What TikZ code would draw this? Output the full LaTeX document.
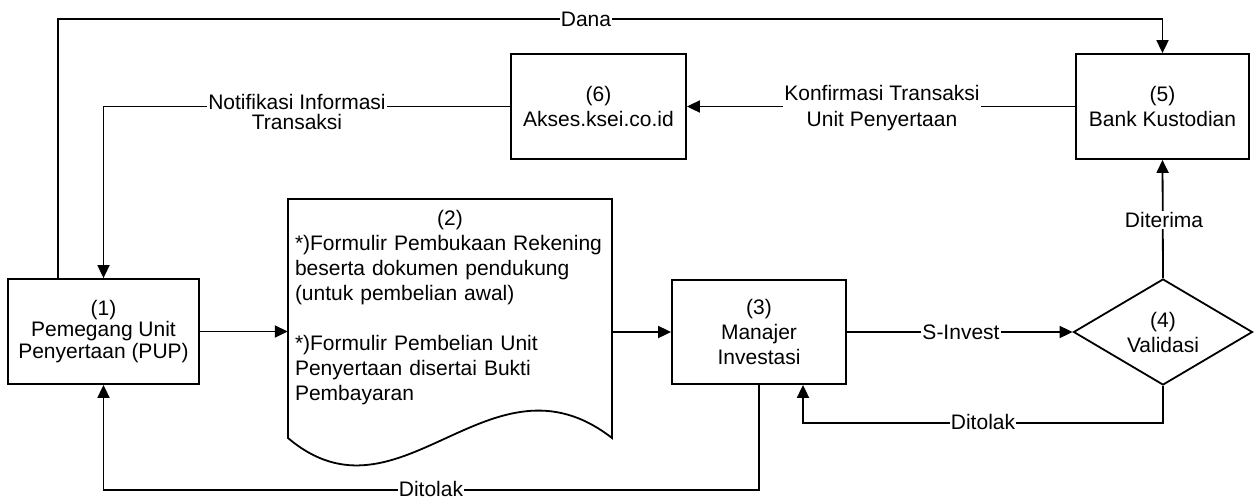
\documentclass[tikz,border=0pt]{standalone}
\usepackage{fontspec}
\setmainfont{Liberation Sans}
\usetikzlibrary{arrows.meta,shapes.geometric}
\begin{document}
\begin{tikzpicture}[x=1pt,y=-1pt,
  every node/.style={font=\fontsize{21}{25}\selectfont},
  box/.style={draw, line width=1.8pt, align=center, inner sep=0pt},
  lbl/.style={fill=white, inner sep=1pt, align=center},
  arr/.style={line width=1.8pt, -{Triangle[length=13pt,width=12pt]}},
  ln/.style={line width=1.8pt}]
\useasboundingbox (0,0) rectangle (1258,499);
% boxes
\node[box, minimum width=191pt, minimum height=105pt,
      font=\fontsize{21}{21.5}\selectfont] (box1) at (103.5,331.5)
      {(1)\\Pemegang Unit\\Penyertaan (PUP)};
\node[box, minimum width=175pt, minimum height=105pt] (box6) at (598.5,106.5)
      {(6)\\Akses.ksei.co.id};
\node[box, minimum width=173pt, minimum height=105pt] (box5) at (1162.5,106.5)
      {(5)\\Bank Kustodian};
\node[box, minimum width=174pt, minimum height=104pt] (box3) at (759,332)
      {(3)\\Manajer\\Investasi};
\node[box, diamond, aspect=1.7, minimum width=179pt, minimum height=106pt] (dia) at (1163,332)
      {(4)\\Validasi};
% document shape
\draw[ln, line join=miter] (288,199) -- (612,199) -- (612,438)
   .. controls (490,343) and (400,533) .. (288,438) -- cycle;
\node[anchor=north, text width=310pt, inner xsep=7pt, inner ysep=0pt, align=left] (doc) at (450,210)
  {\makebox[\linewidth]{(2)}\\
   \relax *)Formulir Pembukaan Rekening\\
   beserta dokumen pendukung\\
   (untuk pembelian awal)\\[25pt]
   \relax *)Formulir Pembelian Unit\\
   Penyertaan disertai Bukti\\
   Pembayaran};
% connectors
\coordinate (danaL) at (58,19);
\coordinate (danaR) at (1162.5,19);
\draw[arr] (box1.north -| danaL) -- (danaL) -- (danaR) -- (box5.north);
\draw[arr] (box6.west) -- (box6.west -| box1.north) -- (box1.north);
\draw[arr] (box5.west) -- (box6.east);
\draw[arr] (box1.east) -- (box1.east -| doc.west);
\draw[arr] (box3.west -| doc.east) -- (box3.west);
\draw[arr] (box3.east) -- (dia.west);
\draw[arr] (dia.north) -- (box5.south);
\draw[arr] (dia.south) -- ++(0,37) -| ([xshift=44pt]box3.south);
\draw[arr] (box3.south) -- ++(0,105) -| (box1.south);
% labels
\node[lbl] (lDana) at (586,19) {Dana};
\node[lbl, font=\fontsize{21}{20}\selectfont] (lNotif) at (297,111.5) {Notifikasi Informasi\\Transaksi};
\node[lbl, font=\fontsize{21}{26}\selectfont] (lKonf) at (882,108.5) {Konfirmasi Transaksi\\Unit Penyertaan};
\node[lbl] (lSinv) at (961,332) {S-Invest};
\node[lbl] (lDiter) at (1164,220) {Diterima};
\node[lbl] (lTol1) at (983,422) {Ditolak};
\node[lbl] (lTol2) at (431,489) {Ditolak};
\end{tikzpicture}
\end{document}
